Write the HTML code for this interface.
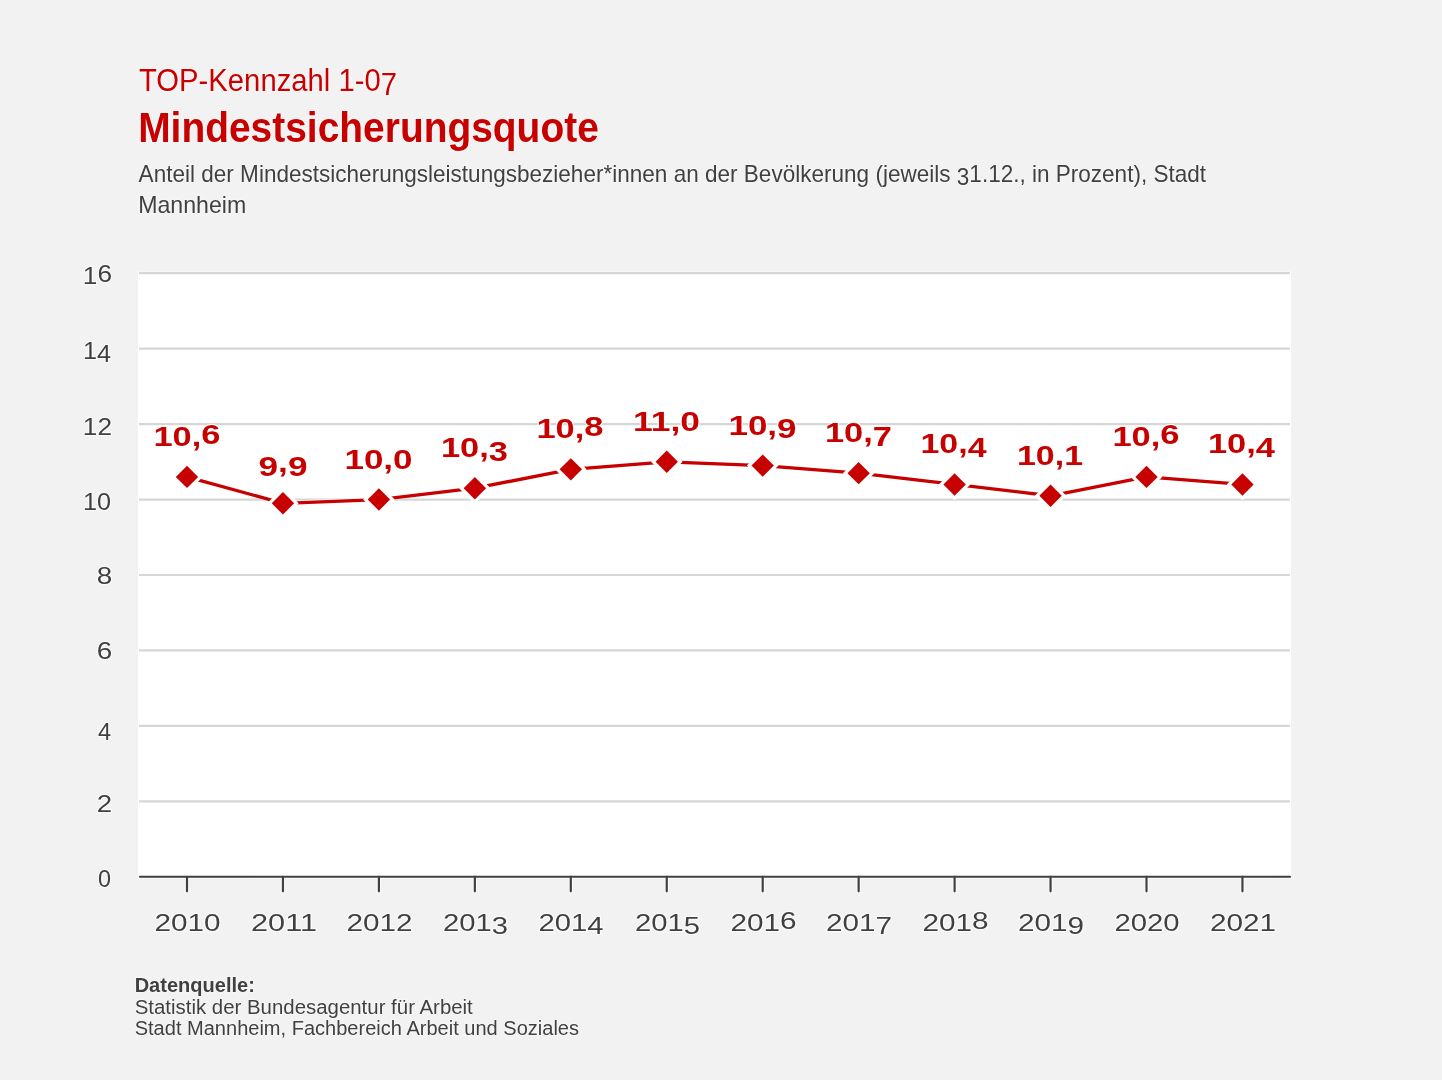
<!DOCTYPE html>
<html lang="de"><head><meta charset="utf-8"><title>Mindestsicherungsquote</title>
<style>
html,body{margin:0;padding:0;background:#f2f2f2;}
body{width:1442px;height:1080px;overflow:hidden;position:relative;}
svg{position:absolute;left:0;top:0;will-change:transform;font-family:"Liberation Sans",Arial,sans-serif;}
text{paint-order:stroke;stroke-linejoin:round;}
.t1{font-size:30.8px;fill:#c70000;stroke:#ffffff;stroke-width:1.5px;stroke-opacity:.6;}
.t2{font-size:42px;font-weight:bold;fill:#c70000;stroke:#ffffff;stroke-width:1.5px;stroke-opacity:.6;}
.st{font-size:23.2px;fill:#404040;stroke:#ffffff;stroke-width:1.5px;stroke-opacity:.5;}
.yl{font-size:24px;fill:#404040;stroke:#ffffff;stroke-width:2px;stroke-opacity:.8;}
.xl{font-size:23.5px;fill:#404040;stroke:#ffffff;stroke-width:2px;stroke-opacity:.8;}
.dl{font-size:28px;font-weight:bold;fill:#c70000;stroke:#ffffff;stroke-width:2px;}
.fh{font-size:19.5px;font-weight:bold;fill:#404040;stroke:#ffffff;stroke-width:1.5px;stroke-opacity:.5;}
.ft{font-size:19.6px;fill:#404040;stroke:#ffffff;stroke-width:1.5px;stroke-opacity:.5;}
</style></head>
<body>
<svg width="1442" height="1080" viewBox="0 0 1442 1080">
<rect x="138" y="271.6" width="1153" height="606.8" fill="#ffffff"/>
<line x1="139" y1="801.31" x2="1290" y2="801.31" stroke="#d6d6d6" stroke-width="2.2"/>
<line x1="139" y1="725.86" x2="1290" y2="725.86" stroke="#d6d6d6" stroke-width="2.2"/>
<line x1="139" y1="650.42" x2="1290" y2="650.42" stroke="#d6d6d6" stroke-width="2.2"/>
<line x1="139" y1="574.98" x2="1290" y2="574.98" stroke="#d6d6d6" stroke-width="2.2"/>
<line x1="139" y1="499.53" x2="1290" y2="499.53" stroke="#d6d6d6" stroke-width="2.2"/>
<line x1="139" y1="424.09" x2="1290" y2="424.09" stroke="#d6d6d6" stroke-width="2.2"/>
<line x1="139" y1="348.64" x2="1290" y2="348.64" stroke="#d6d6d6" stroke-width="2.2"/>
<line x1="139" y1="273.20" x2="1290" y2="273.20" stroke="#d6d6d6" stroke-width="2.2"/>
<line x1="187.00" y1="876.75" x2="187.00" y2="891.3" stroke="#ffffff" stroke-width="4.2" stroke-linecap="round" opacity="0.8"/>
<line x1="282.95" y1="876.75" x2="282.95" y2="891.3" stroke="#ffffff" stroke-width="4.2" stroke-linecap="round" opacity="0.8"/>
<line x1="378.90" y1="876.75" x2="378.90" y2="891.3" stroke="#ffffff" stroke-width="4.2" stroke-linecap="round" opacity="0.8"/>
<line x1="474.85" y1="876.75" x2="474.85" y2="891.3" stroke="#ffffff" stroke-width="4.2" stroke-linecap="round" opacity="0.8"/>
<line x1="570.80" y1="876.75" x2="570.80" y2="891.3" stroke="#ffffff" stroke-width="4.2" stroke-linecap="round" opacity="0.8"/>
<line x1="666.75" y1="876.75" x2="666.75" y2="891.3" stroke="#ffffff" stroke-width="4.2" stroke-linecap="round" opacity="0.8"/>
<line x1="762.70" y1="876.75" x2="762.70" y2="891.3" stroke="#ffffff" stroke-width="4.2" stroke-linecap="round" opacity="0.8"/>
<line x1="858.65" y1="876.75" x2="858.65" y2="891.3" stroke="#ffffff" stroke-width="4.2" stroke-linecap="round" opacity="0.8"/>
<line x1="954.60" y1="876.75" x2="954.60" y2="891.3" stroke="#ffffff" stroke-width="4.2" stroke-linecap="round" opacity="0.8"/>
<line x1="1050.55" y1="876.75" x2="1050.55" y2="891.3" stroke="#ffffff" stroke-width="4.2" stroke-linecap="round" opacity="0.8"/>
<line x1="1146.50" y1="876.75" x2="1146.50" y2="891.3" stroke="#ffffff" stroke-width="4.2" stroke-linecap="round" opacity="0.8"/>
<line x1="1242.45" y1="876.75" x2="1242.45" y2="891.3" stroke="#ffffff" stroke-width="4.2" stroke-linecap="round" opacity="0.8"/>
<line x1="140" y1="876.75" x2="1290" y2="876.75" stroke="#404040" stroke-width="2.2" stroke-linecap="round"/>
<line x1="187.00" y1="876.75" x2="187.00" y2="891.3" stroke="#404040" stroke-width="2.2" stroke-linecap="round"/>
<line x1="282.95" y1="876.75" x2="282.95" y2="891.3" stroke="#404040" stroke-width="2.2" stroke-linecap="round"/>
<line x1="378.90" y1="876.75" x2="378.90" y2="891.3" stroke="#404040" stroke-width="2.2" stroke-linecap="round"/>
<line x1="474.85" y1="876.75" x2="474.85" y2="891.3" stroke="#404040" stroke-width="2.2" stroke-linecap="round"/>
<line x1="570.80" y1="876.75" x2="570.80" y2="891.3" stroke="#404040" stroke-width="2.2" stroke-linecap="round"/>
<line x1="666.75" y1="876.75" x2="666.75" y2="891.3" stroke="#404040" stroke-width="2.2" stroke-linecap="round"/>
<line x1="762.70" y1="876.75" x2="762.70" y2="891.3" stroke="#404040" stroke-width="2.2" stroke-linecap="round"/>
<line x1="858.65" y1="876.75" x2="858.65" y2="891.3" stroke="#404040" stroke-width="2.2" stroke-linecap="round"/>
<line x1="954.60" y1="876.75" x2="954.60" y2="891.3" stroke="#404040" stroke-width="2.2" stroke-linecap="round"/>
<line x1="1050.55" y1="876.75" x2="1050.55" y2="891.3" stroke="#404040" stroke-width="2.2" stroke-linecap="round"/>
<line x1="1146.50" y1="876.75" x2="1146.50" y2="891.3" stroke="#404040" stroke-width="2.2" stroke-linecap="round"/>
<line x1="1242.45" y1="876.75" x2="1242.45" y2="891.3" stroke="#404040" stroke-width="2.2" stroke-linecap="round"/>
<polyline points="187.00,476.90 282.95,503.30 378.90,499.53 474.85,488.21 570.80,469.35 666.75,461.81 762.70,465.58 858.65,473.13 954.60,484.44 1050.55,495.76 1146.50,476.90 1242.45,484.44" fill="none" stroke="#ffffff" stroke-width="4.4" stroke-linejoin="round"/>
<polyline points="187.00,476.90 282.95,503.30 378.90,499.53 474.85,488.21 570.80,469.35 666.75,461.81 762.70,465.58 858.65,473.13 954.60,484.44 1050.55,495.76 1146.50,476.90 1242.45,484.44" fill="none" stroke="#c70000" stroke-width="3.3" stroke-linejoin="round"/>
<polygon points="187.00,465.70 198.20,476.90 187.00,488.10 175.80,476.90" fill="#c70000" stroke="#ffffff" stroke-width="6.5" stroke-linejoin="miter" paint-order="stroke"/>
<polygon points="282.95,492.10 294.15,503.30 282.95,514.50 271.75,503.30" fill="#c70000" stroke="#ffffff" stroke-width="6.5" stroke-linejoin="miter" paint-order="stroke"/>
<polygon points="378.90,488.33 390.10,499.53 378.90,510.73 367.70,499.53" fill="#c70000" stroke="#ffffff" stroke-width="6.5" stroke-linejoin="miter" paint-order="stroke"/>
<polygon points="474.85,477.01 486.05,488.21 474.85,499.41 463.65,488.21" fill="#c70000" stroke="#ffffff" stroke-width="6.5" stroke-linejoin="miter" paint-order="stroke"/>
<polygon points="570.80,458.15 582.00,469.35 570.80,480.55 559.60,469.35" fill="#c70000" stroke="#ffffff" stroke-width="6.5" stroke-linejoin="miter" paint-order="stroke"/>
<polygon points="666.75,450.61 677.95,461.81 666.75,473.01 655.55,461.81" fill="#c70000" stroke="#ffffff" stroke-width="6.5" stroke-linejoin="miter" paint-order="stroke"/>
<polygon points="762.70,454.38 773.90,465.58 762.70,476.78 751.50,465.58" fill="#c70000" stroke="#ffffff" stroke-width="6.5" stroke-linejoin="miter" paint-order="stroke"/>
<polygon points="858.65,461.93 869.85,473.13 858.65,484.33 847.45,473.13" fill="#c70000" stroke="#ffffff" stroke-width="6.5" stroke-linejoin="miter" paint-order="stroke"/>
<polygon points="954.60,473.24 965.80,484.44 954.60,495.64 943.40,484.44" fill="#c70000" stroke="#ffffff" stroke-width="6.5" stroke-linejoin="miter" paint-order="stroke"/>
<polygon points="1050.55,484.56 1061.75,495.76 1050.55,506.96 1039.35,495.76" fill="#c70000" stroke="#ffffff" stroke-width="6.5" stroke-linejoin="miter" paint-order="stroke"/>
<polygon points="1146.50,465.70 1157.70,476.90 1146.50,488.10 1135.30,476.90" fill="#c70000" stroke="#ffffff" stroke-width="6.5" stroke-linejoin="miter" paint-order="stroke"/>
<polygon points="1242.45,473.24 1253.65,484.44 1242.45,495.64 1231.25,484.44" fill="#c70000" stroke="#ffffff" stroke-width="6.5" stroke-linejoin="miter" paint-order="stroke"/>
<text class="t1" x="139.00" y="90.80" dy="0 0 0 0 0 0 0 0 0 0 0 0 0 0 0 0 4" text-anchor="start" textLength="258.00" lengthAdjust="spacingAndGlyphs">TOP-Kennzahl 1-07</text>
<text class="t2" x="138.20" y="142.10" text-anchor="start" textLength="460.60" lengthAdjust="spacingAndGlyphs">Mindestsicherungsquote</text>
<text class="st" x="138.60" y="181.90" dy="0 0 0 0 0 0 0 0 0 0 0 0 0 0 0 0 0 0 0 0 0 0 0 0 0 0 0 0 0 0 0 0 0 0 0 0 0 0 0 0 0 0 0 0 0 0 0 0 0 0 0 0 0 0 0 0 0 0 0 0 0 0 0 0 0 0 0 0 0 0 0 0 0 0 0 0 0 0 0 0 3.02 -3.02" text-anchor="start" textLength="1067.40" lengthAdjust="spacingAndGlyphs">Anteil der Mindestsicherungsleistungsbezieher*innen an der Bevölkerung (jeweils 31.12., in Prozent), Stadt</text>
<text class="st" x="138.15" y="212.80" text-anchor="start" textLength="108.08" lengthAdjust="spacingAndGlyphs">Mannheim</text>
<text class="fh" x="134.65" y="991.80" text-anchor="start" textLength="120.28" lengthAdjust="spacingAndGlyphs">Datenquelle:</text>
<text class="ft" x="134.69" y="1013.80" text-anchor="start" textLength="338.11" lengthAdjust="spacingAndGlyphs">Statistik der Bundesagentur für Arbeit</text>
<text class="ft" x="134.70" y="1035.20" text-anchor="start" textLength="444.31" lengthAdjust="spacingAndGlyphs">Stadt Mannheim, Fachbereich Arbeit und Soziales</text>
<text class="yl" x="111.04" y="887.35" text-anchor="end" textLength="13.02" lengthAdjust="spacingAndGlyphs">0</text>
<text class="yl" x="112.19" y="811.91" text-anchor="end" textLength="15.40" lengthAdjust="spacingAndGlyphs">2</text>
<text class="yl" x="111.06" y="736.46" dy="3.12" text-anchor="end" textLength="13.12" lengthAdjust="spacingAndGlyphs">4</text>
<text class="yl" x="112.26" y="661.02" dy="-1.92" text-anchor="end" textLength="15.51" lengthAdjust="spacingAndGlyphs">6</text>
<text class="yl" x="112.26" y="585.58" dy="-1.92" text-anchor="end" textLength="15.50" lengthAdjust="spacingAndGlyphs">8</text>
<text class="yl" x="111.03" y="510.13" text-anchor="end" textLength="28.07" lengthAdjust="spacingAndGlyphs">10</text>
<text class="yl" x="112.10" y="434.69" text-anchor="end" textLength="29.23" lengthAdjust="spacingAndGlyphs">12</text>
<text class="yl" x="111.04" y="359.24" dy="0 3.12" text-anchor="end" textLength="28.07" lengthAdjust="spacingAndGlyphs">14</text>
<text class="yl" x="112.07" y="283.80" dy="0 -1.92" text-anchor="end" textLength="29.19" lengthAdjust="spacingAndGlyphs">16</text>
<text class="xl" x="187.50" y="930.80" text-anchor="middle" textLength="66.02" lengthAdjust="spacingAndGlyphs">2010</text>
<text class="xl" x="284.00" y="930.80" text-anchor="middle" textLength="66.00" lengthAdjust="spacingAndGlyphs">2011</text>
<text class="xl" x="379.50" y="930.80" text-anchor="middle" textLength="66.00" lengthAdjust="spacingAndGlyphs">2012</text>
<text class="xl" x="475.50" y="930.80" dy="0 0 0 3.06" text-anchor="middle" textLength="64.97" lengthAdjust="spacingAndGlyphs">2013</text>
<text class="xl" x="571.00" y="930.80" dy="0 0 0 3.06" text-anchor="middle" textLength="64.97" lengthAdjust="spacingAndGlyphs">2014</text>
<text class="xl" x="667.50" y="930.80" dy="0 0 0 3.06" text-anchor="middle" textLength="64.99" lengthAdjust="spacingAndGlyphs">2015</text>
<text class="xl" x="763.50" y="930.80" dy="0 0 0 -1.88" text-anchor="middle" textLength="66.04" lengthAdjust="spacingAndGlyphs">2016</text>
<text class="xl" x="859.00" y="930.80" dy="0 0 0 3.06" text-anchor="middle" textLength="66.04" lengthAdjust="spacingAndGlyphs">2017</text>
<text class="xl" x="955.50" y="930.80" dy="0 0 0 -1.88" text-anchor="middle" textLength="66.06" lengthAdjust="spacingAndGlyphs">2018</text>
<text class="xl" x="1051.00" y="930.80" dy="0 0 0 3.06" text-anchor="middle" textLength="66.04" lengthAdjust="spacingAndGlyphs">2019</text>
<text class="xl" x="1147.00" y="930.80" text-anchor="middle" textLength="65.03" lengthAdjust="spacingAndGlyphs">2020</text>
<text class="xl" x="1243.00" y="930.80" text-anchor="middle" textLength="66.06" lengthAdjust="spacingAndGlyphs">2021</text>
<text class="dl" x="187.00" y="445.90" dy="0 0 0 -2.24" text-anchor="middle" textLength="67.06" lengthAdjust="spacingAndGlyphs">10,6</text>
<text class="dl" x="283.00" y="472.30" dy="3.64 -3.64 3.64" text-anchor="middle" textLength="49.00" lengthAdjust="spacingAndGlyphs">9,9</text>
<text class="dl" x="378.50" y="468.53" text-anchor="middle" textLength="68.11" lengthAdjust="spacingAndGlyphs">10,0</text>
<text class="dl" x="474.50" y="457.21" dy="0 0 0 3.64" text-anchor="middle" textLength="67.04" lengthAdjust="spacingAndGlyphs">10,3</text>
<text class="dl" x="570.00" y="438.35" dy="0 0 0 -2.24" text-anchor="middle" textLength="67.05" lengthAdjust="spacingAndGlyphs">10,8</text>
<text class="dl" x="666.50" y="430.81" text-anchor="middle" textLength="67.06" lengthAdjust="spacingAndGlyphs">11,0</text>
<text class="dl" x="762.50" y="434.58" dy="0 0 0 3.64" text-anchor="middle" textLength="68.10" lengthAdjust="spacingAndGlyphs">10,9</text>
<text class="dl" x="858.50" y="442.13" dy="0 0 0 3.64" text-anchor="middle" textLength="67.06" lengthAdjust="spacingAndGlyphs">10,7</text>
<text class="dl" x="953.50" y="453.44" dy="0 0 0 3.64" text-anchor="middle" textLength="66.02" lengthAdjust="spacingAndGlyphs">10,4</text>
<text class="dl" x="1050.00" y="464.76" text-anchor="middle" textLength="66.01" lengthAdjust="spacingAndGlyphs">10,1</text>
<text class="dl" x="1146.00" y="445.90" dy="0 0 0 -2.24" text-anchor="middle" textLength="67.09" lengthAdjust="spacingAndGlyphs">10,6</text>
<text class="dl" x="1241.50" y="453.44" dy="0 0 0 3.64" text-anchor="middle" textLength="67.06" lengthAdjust="spacingAndGlyphs">10,4</text>
</svg>
</body></html>
